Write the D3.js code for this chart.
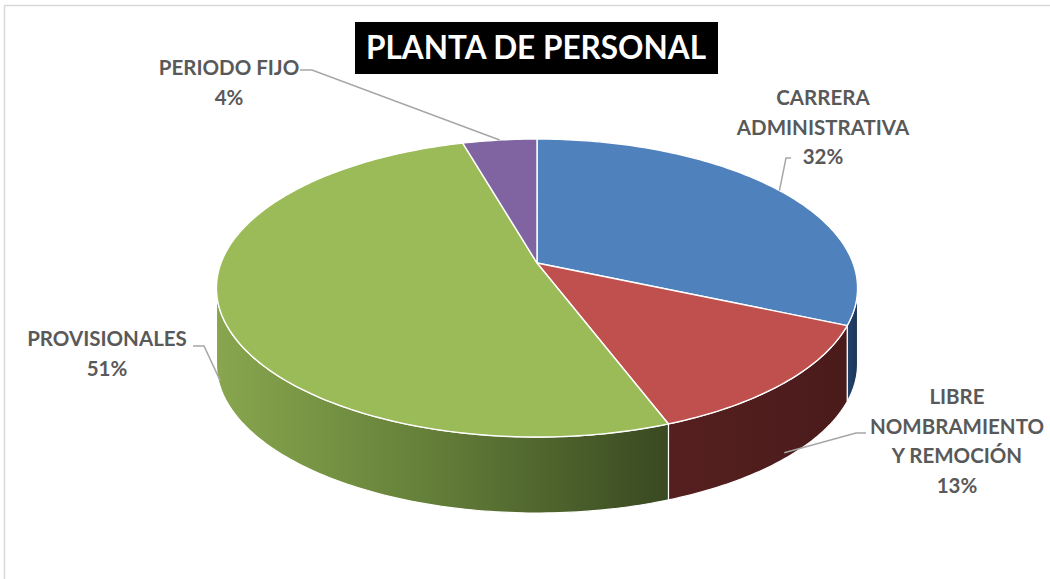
<!DOCTYPE html>
<html>
<head>
<meta charset="utf-8">
<script src="https://cdn.jsdelivr.net/npm/d3@7"></script>
<style>
  body { margin: 0; background: #fff; }
  svg { display: block; }
</style>
</head>
<body>
<svg id="chart" width="1050" height="579"></svg>
<script>
// data (shares estimated from the slice edges, labels round them)
const categories = ["CARRERA ADMINISTRATIVA", "LIBRE NOMBRAMIENTO Y REMOCIÓN", "PROVISIONALES", "PERIODO FIJO"];
const values = [31.6, 12.7, 51.3, 4.4];
const labelLines = [["CARRERA", "ADMINISTRATIVA"], ["LIBRE", "NOMBRAMIENTO", "Y REMOCIÓN"], ["PROVISIONALES"], ["PERIODO FIJO"]];
const chartTitle = "PLANTA DE PERSONAL";

class Pie3D {
    constructor(svgId) {
        this.svg = d3.select(svgId);
        this.width = 1050;
        this.height = 579;
        // pie geometry (perspective squashed disc)
        this.cx = 537;
        this.cy = 263;
        this.rx = 316;
        this.ry = 144.8;
        this.persp = 0.168;
        this.depth = 76;
        this.topColors = ["#4f81bd", "#c0504d", "#9bbb59", "#8064a2"];
        this.drawChart();
    }

    // angle a is clockwise from 12 o'clock, dz pushes the point down the wall
    proj(a, dz) {
        const u = Math.sin(a), v = -Math.cos(a), w = 1 - this.persp * v;
        return [this.cx + this.rx * u / w, this.cy + this.ry * v / w + (dz || 0)];
    }

    arcPts(a0, a1, dz) {
        const n = Math.max(2, Math.ceil((a1 - a0) * 60));
        return d3.range(n + 1).map(i => this.proj(a0 + (a1 - a0) * i / n, dz));
    }

    drawChart() {
        const svg = this.svg;

        // chart frame
        svg.append("rect")
            .attr("x", 4.5).attr("y", 5.5)
            .attr("width", 1100).attr("height", 600)
            .attr("fill", "none")
            .attr("stroke", "#d9d9d9")
            .attr("stroke-width", 1.5);

        const defs = svg.append("defs");
        const gradients = [
            {id: "wall0", stops: [["0%", "#24436b"], ["100%", "#1b3555"]]},
            {id: "wall1", stops: [["0%", "#561f1f"], ["100%", "#4a1b1b"]]},
            {id: "wall2", stops: [["0%", "#88a64e"], ["45%", "#66813a"], ["100%", "#394921"]]},
            {id: "wall3", stops: [["0%", "#4b3a61"], ["100%", "#3f3152"]]}
        ];

        const pie = d3.pie().sort(null).value(d => d)
            .startAngle(0).endAngle(2 * Math.PI);
        const slices = pie(values);

        const line = d3.line();
        const A0 = Math.acos(-this.persp), A1 = 2 * Math.PI - A0;

        slices.forEach((s, i) => {
            const lo = this.proj(Math.max(s.startAngle, A0)), hi = this.proj(Math.min(s.endAngle, A1));
            const g = defs.append("linearGradient")
                .attr("id", gradients[i].id)
                .attr("gradientUnits", "userSpaceOnUse")
                .attr("x1", Math.min(lo[0], hi[0])).attr("x2", Math.max(lo[0], hi[0]))
                .attr("y1", 0).attr("y2", 0);
            gradients[i].stops.forEach(st => g.append("stop").attr("offset", st[0]).attr("stop-color", st[1]));
        });

        // outer walls, only the part facing us
        const walls = svg.append("g");
        slices.forEach((s, i) => {
            const a = Math.max(s.startAngle, A0), b = Math.min(s.endAngle, A1);
            if (a >= b) return;
            const pts = this.arcPts(a, b, 0).concat(this.arcPts(a, b, this.depth).reverse());
            walls.append("path")
                .attr("d", line(pts) + "Z")
                .attr("fill", `url(#${gradients[i].id})`)
                .attr("stroke", "#ffffff")
                .attr("stroke-width", 1.2)
                .attr("stroke-linejoin", "round");
        });

        // top faces
        const tops = svg.append("g");
        slices.forEach((s, i) => {
            const pts = [[this.cx, this.cy]].concat(this.arcPts(s.startAngle, s.endAngle, 0));
            tops.append("path")
                .attr("d", line(pts) + "Z")
                .attr("fill", this.topColors[i])
                .attr("stroke", "#ffffff")
                .attr("stroke-width", 1.4)
                .attr("stroke-linejoin", "round");
        });

        // labels: text block position and leader elbow for each slice
        const layout = [
            {x: 823, y: 98, elbow: [[791, 158], [786, 158]], side: "top"},
            {x: 957, y: 397, elbow: [[866, 433], [856, 433]], side: "wall"},
            {x: 107, y: 339, elbow: [[193, 346], [204, 346]], side: "wall"},
            {x: 229, y: 68, elbow: [[300, 70], [312, 70]], side: "top"}
        ];
        const total = d3.sum(values);
        const fmt = d3.format(".0%");
        const lab = svg.append("g")
            .attr("font-family", "Lato, 'Open Sans', sans-serif")
            .attr("font-weight", "bold")
            .attr("font-size", 20.5)
            .attr("fill", "#595959");

        slices.forEach((s, i) => {
            const L = layout[i];
            const mid = (s.startAngle + s.endAngle) / 2;
            const end = this.proj(mid, L.side === "wall" ? this.depth * 0.92 : 0);
            lab.append("path")
                .attr("d", line(L.elbow.concat([end])))
                .attr("fill", "none")
                .attr("stroke", "#a6a6a6")
                .attr("stroke-width", 1.5);
            const rows = labelLines[i].concat([fmt(values[i] / total)]);
            rows.forEach((r, k) => {
                lab.append("text")
                    .attr("x", L.x)
                    .attr("y", L.y + k * 29.5)
                    .attr("dy", "0.35em")
                    .attr("text-anchor", "middle")
                    .text(r);
            });
        });

        // title box
        svg.append("rect")
            .attr("x", 355).attr("y", 22)
            .attr("width", 363).attr("height", 52)
            .attr("fill", "#000");
        svg.append("text")
            .attr("x", 536).attr("y", 48)
            .attr("dy", "0.36em")
            .attr("text-anchor", "middle")
            .attr("font-family", "Lato, 'Open Sans', sans-serif")
            .attr("font-weight", "bold")
            .attr("font-size", 31.5)
            .attr("fill", "#fff")
            .text(chartTitle);
    }
}

new Pie3D("#chart");
</script>
</body>
</html>
